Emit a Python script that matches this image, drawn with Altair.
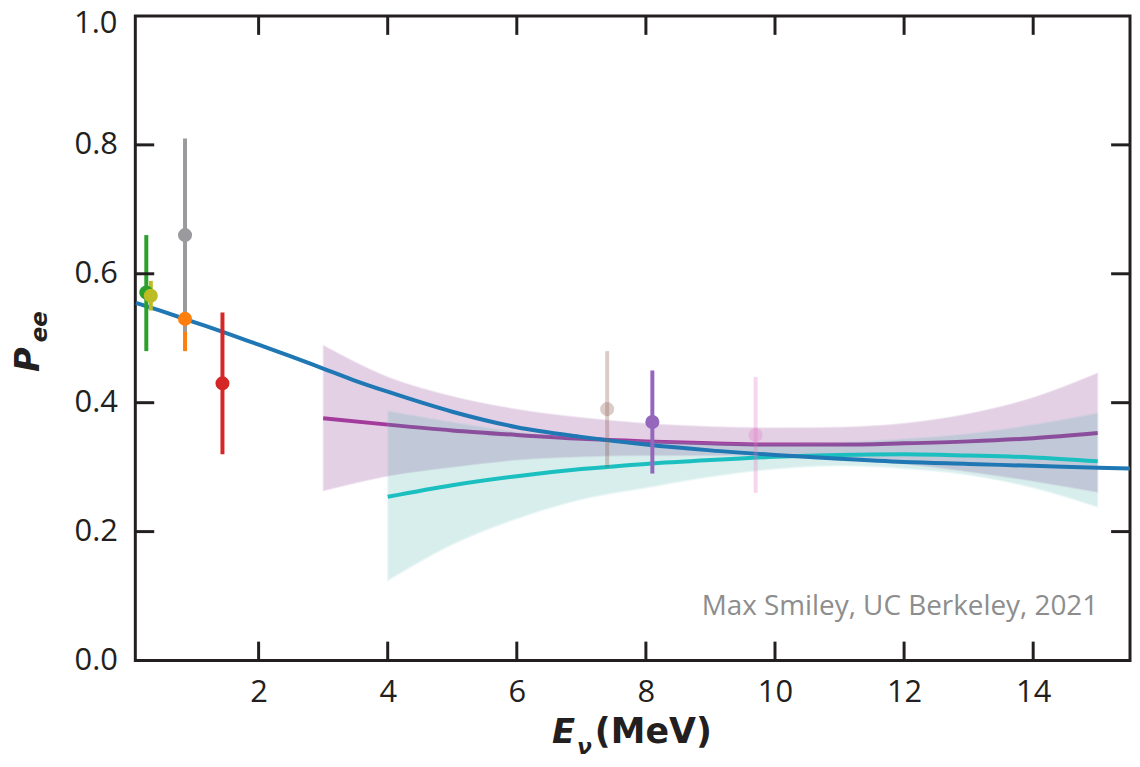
import altair as alt
import pandas as pd

# ---------------- data ----------------
pt_name = ["green", "olive", "orange", "gray", "red", "tan", "purple", "pink"]
pt_x = [0.26, 0.33, 0.86, 0.86, 1.44, 7.40, 8.10, 9.70]
pt_y = [0.571, 0.566, 0.53, 0.66, 0.43, 0.39, 0.37, 0.35]
pt_lo = [0.48, 0.543, 0.48, 0.51, 0.32, 0.30, 0.29, 0.26]
pt_hi = [0.66, 0.589, 0.58, 0.81, 0.54, 0.48, 0.45, 0.44]
pt_color = ["#2ca02c", "#bcbd22", "#ff7f0e", "#9a9a9e", "#d62728", "#8c564b", "#9467bd", "#e377c2"]
pt_opacity = [1, 1, 1, 1, 1, 0.3, 1, 0.3]
pt_draw = [0, 1, 3, 2, 4, 5, 6, 7]

blue_x = [0.1, 0.5, 1, 1.5, 2, 2.5, 3, 3.5, 4, 5, 6, 7, 8, 9, 10, 11, 12, 13, 14, 15, 15.5]
blue_y = [0.555, 0.542, 0.525, 0.508, 0.49, 0.472, 0.453, 0.434, 0.417, 0.386, 0.362,
          0.347, 0.335, 0.326, 0.319, 0.313, 0.308, 0.305, 0.302, 0.299, 0.298]

purple_x = [3, 4, 5, 6, 7, 8, 9, 10, 11, 12, 13, 14, 15]
purple_y = [0.376, 0.366, 0.357, 0.350, 0.344, 0.340, 0.337, 0.335, 0.335, 0.337, 0.340, 0.345, 0.353]
purple_hi = [0.489, 0.44, 0.41, 0.39, 0.377, 0.368, 0.363, 0.361, 0.362, 0.368, 0.383, 0.408, 0.446]
purple_lo = [0.263, 0.286, 0.30, 0.311, 0.316, 0.318, 0.318, 0.317, 0.313, 0.305, 0.293, 0.278, 0.261]

teal_x = [4, 5, 6, 7, 8, 9, 10, 11, 12, 13, 14, 15]
teal_y = [0.254, 0.272, 0.286, 0.297, 0.305, 0.311, 0.316, 0.319, 0.320, 0.318, 0.315, 0.309]
teal_hi = [0.387, 0.37, 0.355, 0.345, 0.34, 0.337, 0.336, 0.338, 0.344, 0.352, 0.366, 0.384]
teal_lo = [0.124, 0.18, 0.22, 0.25, 0.268, 0.285, 0.297, 0.302, 0.298, 0.288, 0.268, 0.238]

x_ticks = [2, 4, 6, 8, 10, 12, 14]
y_ticks = [0.0, 0.2, 0.4, 0.6, 0.8]
y_top_label = [1.0]
y_inner_ticks = [0.2, 0.4, 0.6, 0.8]

# ---------------- tables ----------------
pts = pd.DataFrame({"name": pt_name, "x": pt_x, "y": pt_y, "lo": pt_lo, "hi": pt_hi,
                    "op": pt_opacity, "draw": pt_draw})
blue = pd.DataFrame({"x": blue_x, "y": blue_y})
purple = pd.DataFrame({"x": purple_x, "y": purple_y, "lo": purple_lo, "hi": purple_hi})
teal = pd.DataFrame({"x": teal_x, "y": teal_y, "lo": teal_lo, "hi": teal_hi})
xt = pd.DataFrame({"x": x_ticks})
yt = pd.DataFrame({"y": y_inner_ticks})
ytop = pd.DataFrame({"y": y_top_label})
one = pd.DataFrame({"a": [0]})

W, H = 1000, 648
INK = "#231f20"
LW = 4

xaxis = alt.Axis(values=x_ticks, title=None, format="d")
yaxis = alt.Axis(values=y_ticks, title=None, format=".1f")
xs = alt.Scale(domain=[0.09, 15.5], nice=False, zero=False)
ys = alt.Scale(domain=[0, 1], nice=False, zero=False)

X = alt.X("x:Q", scale=xs, axis=xaxis)
Y = alt.Y("y:Q", scale=ys, axis=yaxis)

color = alt.Color("name:N", scale=alt.Scale(domain=pt_name, range=pt_color), legend=None)

purple_band = alt.Chart(purple).mark_area(
    interpolate="monotone", color="#a05aa5", opacity=0.28,
    stroke="#c9a6cc", strokeWidth=1.2, strokeOpacity=0.6
).encode(x=X, y=alt.Y("lo:Q", scale=ys, axis=yaxis), y2="hi:Q")

purple_line = alt.Chart(purple).mark_line(
    interpolate="monotone", color="#a23b9c", strokeWidth=LW
).encode(x=X, y=Y)

teal_band = alt.Chart(teal).mark_area(
    interpolate="monotone", color="#2aa59c", opacity=0.18,
    stroke="#8fcfd0", strokeWidth=1.5, strokeOpacity=0.8
).encode(x=X, y=alt.Y("lo:Q", scale=ys, axis=yaxis), y2="hi:Q")

teal_line = alt.Chart(teal).mark_line(
    interpolate="monotone", color="#1bbfbf", strokeWidth=LW
).encode(x=X, y=Y)

blue_line = alt.Chart(blue).mark_line(
    interpolate="monotone", color="#1f77b4", strokeWidth=LW
).encode(x=X, y=Y)

bars = alt.Chart(pts).mark_rule(strokeWidth=4).encode(
    x=X, y=alt.Y("lo:Q", scale=ys, axis=yaxis), y2="hi:Q",
    color=color, opacity=alt.Opacity("op:Q", scale=None)
)

dots = alt.Chart(pts).mark_circle(size=200).encode(
    x=X, y=Y, color=color,
    opacity=alt.Opacity("op:Q", scale=None),
    order=alt.Order("draw:Q")
)

TL = 19
top_ticks = alt.Chart(xt).mark_rule(color=INK, strokeWidth=3).encode(
    x=X, y=alt.value(0), y2=alt.value(TL))
bot_ticks = alt.Chart(xt).mark_rule(color=INK, strokeWidth=3).encode(
    x=X, y=alt.value(H), y2=alt.value(H - TL))
left_ticks = alt.Chart(yt).mark_rule(color=INK, strokeWidth=3).encode(
    y=Y, x=alt.value(0), x2=alt.value(TL))
right_ticks = alt.Chart(yt).mark_rule(color=INK, strokeWidth=3).encode(
    y=Y, x=alt.value(W), x2=alt.value(W - TL))

# top y label (1.0) nudged down so it stays inside the page, as in the reference
top_label = alt.Chart(ytop).mark_text(
    font="Open Sans", fontSize=31, color=INK, align="right", baseline="middle", dy=8
).encode(y=Y, x=alt.value(-18), text=alt.Text("y:Q", format=".1f"))

TF = "DejaVu Sans"

def label(txt, x, y, size, angle=0, italic=True, bold=True, color=INK, align="left", font=TF):
    kw = dict(text=txt, font=font, fontSize=size, color=color, align=align,
              baseline="alphabetic", fontWeight="bold" if bold else "normal")
    if italic:
        kw["fontStyle"] = "italic"
    if angle:
        kw["angle"] = angle
    return alt.Chart(one).mark_text(**kw).encode(x=alt.value(x), y=alt.value(y))

x_title = (label("E", 419, 731, 34)
           + label("ν", 444, 742, 22)
           + label("(MeV)", 462, 731, 35, italic=False))
y_title = (label("P", -97, 358, 34, angle=270)
           + label("ee", -89, 328, 23, angle=270))
credit = label("Max Smiley, UC Berkeley, 2021", 968, 602, 28, italic=False, bold=False,
               color="#8d8d8d", align="right", font="Open Sans")

chart = alt.layer(
    purple_band, purple_line, teal_band, teal_line, blue_line,
    bars, dots, top_ticks, bot_ticks, left_ticks, right_ticks, top_label,
    x_title, y_title, credit
).properties(
    width=W, height=H,
    autosize=alt.AutoSizeParams(type="none"),
    padding={"left": 128, "top": 6, "right": 2, "bottom": 95}
).configure_view(
    stroke=INK, strokeWidth=3
).configure_axis(
    domain=False, ticks=False, tickSize=0, grid=False,
    labelFont="Open Sans", labelFontSize=31, labelColor=INK
).configure_axisX(labelPadding=17).configure_axisY(labelPadding=18)

chart.save("out.html", embed_options={"renderer": "svg", "actions": False})
